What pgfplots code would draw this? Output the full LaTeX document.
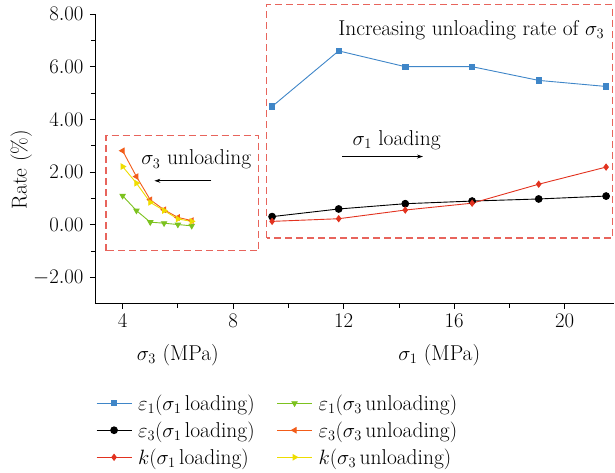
\documentclass[border=0pt]{standalone}
\usepackage{pgfplots}
\pgfplotsset{compat=1.18}
\usetikzlibrary{arrows.meta}

\definecolor{cBlue}{HTML}{3F86C8}
\definecolor{cRed}{HTML}{E2321F}
\definecolor{cGreen}{HTML}{7CC21F}
\definecolor{cOrange}{HTML}{F25C19}
\definecolor{cYellow}{HTML}{EEDD00}
\definecolor{cBox}{HTML}{E8645C}

\newcommand{\chartfont}{\fontsize{21.5}{25}\selectfont}

\begin{document}
\begin{tikzpicture}
\begin{axis}[
  name=a,
  x=27.63pt, y=26.35pt,
  xmin=3, xmax=21.8, ymin=-3, ymax=8,
  axis x line*=bottom, axis y line*=left,
  axis line style={line width=0.9pt, -},
  xtick={4,8,...,20}, minor xtick={6,10,14,18},
  ytick={-2,0,...,8}, minor ytick={-1,1,3,5,7},
  tick align=outside, major tick length=5pt, minor tick length=4pt,
  every tick/.style={black, line width=0.8pt},
  yticklabel style={xshift=-3pt, /pgf/number format/.cd, fixed, fixed zerofill, precision=2},
  xticklabel style={yshift=-2pt},
  clip=false,
  font=\chartfont,
  legend columns=2,
  legend cell align=left,
  legend style={draw=none, fill=none, at={(-0.004,-0.299)}, anchor=north west,
    font=\chartfont, row sep=6pt,
    /tikz/every odd column/.append style={column sep=4pt},
    /tikz/every even column/.append style={column sep=20pt}},
  legend image code/.code={%
    \draw[mark repeat=2, mark phase=2, #1] plot coordinates {(0pt,0pt) (17.5pt,0pt) (35pt,0pt)};},
]
% sigma_1 loading: epsilon_1
\addplot[cBlue, line width=0.9pt, mark=square*, mark size=2.7pt] coordinates {
  (9.41,4.49) (11.82,6.60) (14.23,6.00) (16.65,6.00) (19.06,5.48) (21.50,5.25)};
\addlegendentry{$\varepsilon_1(\sigma_1\,\textrm{loading})$}
% sigma_3 unloading: epsilon_1
\addplot[cGreen, line width=0.9pt, mark=triangle*, mark size=3pt, every mark/.append style={rotate=180}] coordinates {
  (4.0,1.10) (4.5,0.54) (5.0,0.10) (5.5,0.06) (6.0,0.01) (6.5,-0.04)};
\addlegendentry{$\varepsilon_1(\sigma_3\,\textrm{unloading})$}
% sigma_1 loading: epsilon_3
\addplot[black, line width=0.9pt, mark=*, mark size=3.4pt] coordinates {
  (9.41,0.31) (11.82,0.60) (14.23,0.80) (16.65,0.90) (19.06,0.98) (21.50,1.09)};
\addlegendentry{$\varepsilon_3(\sigma_1\,\textrm{loading})$}
% sigma_3 unloading: epsilon_3
\addplot[cOrange, line width=0.9pt, mark=triangle*, mark size=3pt, every mark/.append style={rotate=90}] coordinates {
  (4.0,2.81) (4.5,1.83) (5.0,0.95) (5.5,0.57) (6.0,0.28) (6.5,0.16)};
\addlegendentry{$\varepsilon_3(\sigma_3\,\textrm{unloading})$}
% sigma_1 loading: k
\addplot[cRed, line width=0.9pt, mark=diamond*, mark size=3pt] coordinates {
  (9.41,0.13) (11.82,0.23) (14.23,0.56) (16.65,0.82) (19.06,1.54) (21.50,2.19)};
\addlegendentry{$k(\sigma_1\,\textrm{loading})$}
% sigma_3 unloading: k
\addplot[cYellow, line width=0.9pt, mark=triangle*, mark size=3pt, every mark/.append style={rotate=-90}] coordinates {
  (4.0,2.21) (4.5,1.58) (5.0,0.85) (5.5,0.54) (6.0,0.22) (6.5,0.13)};
\addlegendentry{$k(\sigma_3\,\textrm{unloading})$}

% stage frames
\draw[cBox, line width=1.1pt, dash pattern=on 7pt off 4pt] (axis cs:3.40,-0.99) rectangle (axis cs:8.92,3.39);
\draw[cBox, line width=1.1pt, dash pattern=on 7pt off 4pt] (axis cs:9.21,-0.50) rectangle (axis cs:21.73,8.35);

% annotations
\node at (axis cs:6.67,2.47) {$\sigma_3$ unloading};
\draw[line width=0.7pt, -{Stealth[length=6pt,width=4pt]}] (axis cs:7.21,1.67) -- (axis cs:5.15,1.67);
\node at (axis cs:13.92,3.22) {$\sigma_1$ loading};
\draw[line width=0.7pt, -{Stealth[length=6pt,width=4pt]}] (axis cs:11.95,2.59) -- (axis cs:14.87,2.59);
\node at (axis cs:16.62,7.38) {Increasing unloading rate of $\sigma_3$};

% axis titles
\node at (axis cs:6.0,-4.93) {$\sigma_3$ (MPa)};
\node at (axis cs:15.46,-4.93) {$\sigma_1$ (MPa)};
\node[rotate=90] at (axis cs:0.33,2.09) {Rate (\%)};
\end{axis}
\pgfresetboundingbox
\path[use as bounding box] ([xshift=-95pt,yshift=-169pt]a.south west) rectangle ([xshift=0.6pt,yshift=14pt]a.north east);
\end{tikzpicture}
\end{document}
